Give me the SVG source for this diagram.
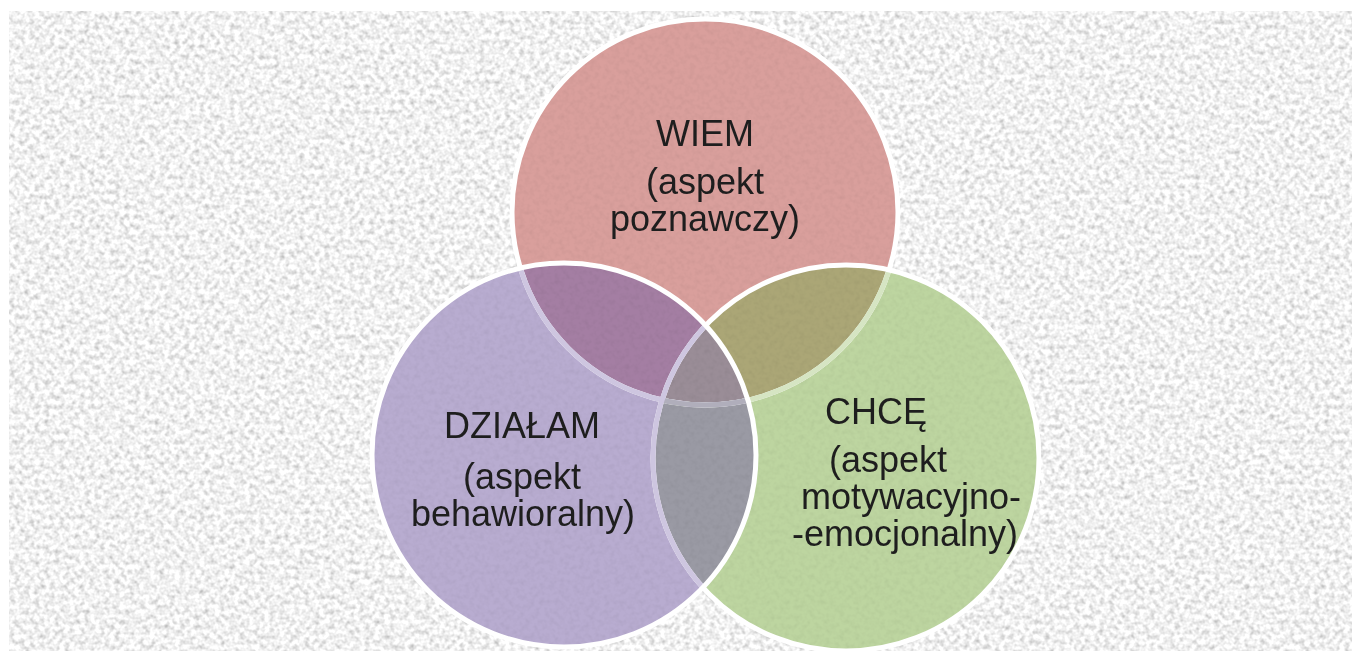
<svg xmlns="http://www.w3.org/2000/svg" width="1355" height="655" viewBox="0 0 1355 655">
  <style>
    .lbl { font-family: "Liberation Sans", Arial, sans-serif; font-size: 36px; fill: #1e1e1e; text-anchor: middle; }
    .ring { fill: none; stroke-width: 5; }
  </style>
  <defs>
    <filter id="noise" x="0" y="0" width="100%" height="100%" filterUnits="objectBoundingBox">
      <feTurbulence type="fractalNoise" baseFrequency="0.2" numOctaves="2" seed="7" result="t"/>
      <feColorMatrix in="t" type="matrix" values="0.9 0 0 0 0.43  0.9 0 0 0 0.43  0.9 0 0 0 0.43  0 0 0 0 1"/>
    </filter>
    <clipPath id="cR"><circle cx="705" cy="212" r="193"/></clipPath>
    <clipPath id="cG"><circle cx="846" cy="458" r="193"/></clipPath>
    <clipPath id="cP"><circle cx="564" cy="455" r="192"/></clipPath>
    <clipPath id="cAll">
      <circle cx="705" cy="212" r="196"/>
      <circle cx="846" cy="458" r="196"/>
      <circle cx="564" cy="455" r="195"/>
    </clipPath>
  </defs>

  <g id="background">
    <rect x="0" y="0" width="1355" height="655" fill="#ffffff"/>
    <rect x="9" y="11" width="1343" height="640" filter="url(#noise)"/>
  </g>

  <g id="node-wiem">
    <circle cx="705" cy="212" r="193" fill="#d99f9c"/>
    <text class="lbl" x="705" y="146">WIEM</text>
    <text class="lbl" x="705" y="194">(aspekt</text>
    <text class="lbl" x="705" y="231">poznawczy)</text>
  </g>

  <g id="node-chce">
    <circle cx="846" cy="458" r="193" fill="#bdd5a0"/>
    <text class="lbl" x="876" y="424">CHCĘ</text>
    <text class="lbl" x="888" y="472">(aspekt</text>
    <text class="lbl" x="911" y="509">motywacyjno-</text>
    <text class="lbl" x="905" y="546">-emocjonalny)</text>
  </g>

  <g id="node-dzialam">
    <circle cx="564" cy="455" r="192" fill="#b8acd0"/>
    <text class="lbl" x="522" y="438">DZIAŁAM</text>
    <text class="lbl" x="522" y="489">(aspekt</text>
    <text class="lbl" x="523" y="526">behawioralny)</text>
  </g>

  <g id="overlaps">
    <g clip-path="url(#cG)"><circle cx="705" cy="212" r="193" fill="#aba676"/></g>
    <g clip-path="url(#cP)"><circle cx="705" cy="212" r="193" fill="#a47ea3"/></g>
    <g clip-path="url(#cP)"><circle cx="846" cy="458" r="193" fill="#9a9aa4"/></g>
    <g clip-path="url(#cP)"><g clip-path="url(#cG)"><circle cx="705" cy="212" r="193" fill="#9a8d97"/></g></g>
  </g>

  <g id="texture" clip-path="url(#cAll)" style="mix-blend-mode:multiply" opacity="0.2">
    <rect x="9" y="11" width="1343" height="640" filter="url(#noise)"/>
  </g>

  <g id="connectors">
    <circle class="ring" cx="705" cy="212" r="193" stroke="#ffffff"/>
    <g clip-path="url(#cG)"><circle class="ring" cx="705" cy="212" r="193" stroke="#d6e5c3"/></g>
    <circle class="ring" cx="846" cy="458" r="193" stroke="#ffffff"/>
    <g clip-path="url(#cP)"><circle class="ring" cx="705" cy="212" r="193" stroke="#cec6e0"/></g>
    <g clip-path="url(#cP)"><g clip-path="url(#cG)"><circle class="ring" cx="705" cy="212" r="193" stroke="#b0aebb"/></g></g>
    <g clip-path="url(#cP)"><circle class="ring" cx="846" cy="458" r="193" stroke="#cec6e0"/></g>
    <circle class="ring" cx="564" cy="455" r="192" stroke="#ffffff"/>
  </g>
</svg>
